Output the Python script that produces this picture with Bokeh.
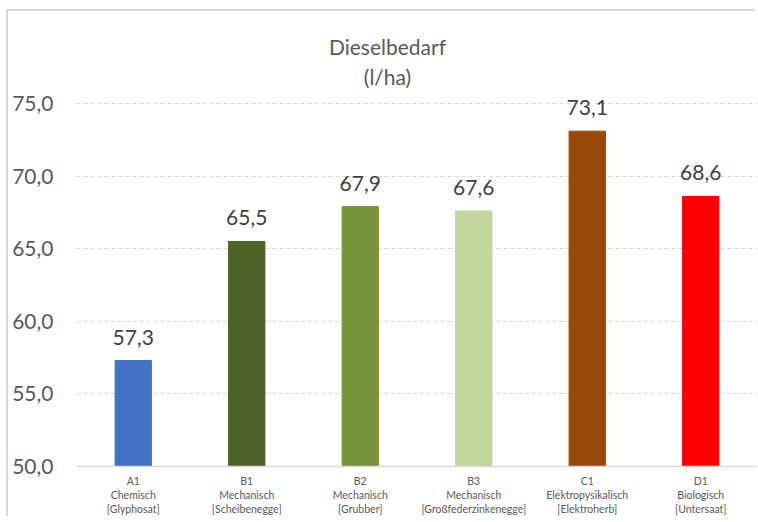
from bokeh.plotting import figure
from bokeh.models import ColumnDataSource, FactorRange, Range1d, FixedTicker, CustomJSTickFormatter, Label
from bokeh.core.properties import value
from bokeh.embed import file_html
from bokeh.resources import INLINE

codes = ["A1", "B1", "B2", "B3", "C1", "D1"]
methods = ["Chemisch", "Mechanisch", "Mechanisch", "Mechanisch", "Elektropysikalisch", "Biologisch"]
details = ["[Glyphosat]", "[Scheibenegge]", "[Grubber]", "[Großfederzinkenegge]", "[Elektroherb]", "[Untersaat]"]
values = [57.3, 65.5, 67.9, 67.6, 73.1, 68.6]
colors = ["#4472C4", "#4F6228", "#77933C", "#C3D69B", "#984807", "#FF0000"]
y_ticks = [50, 55, 60, 65, 70, 75]

cats = [f"{c}\n{m}\n{d}" for c, m, d in zip(codes, methods, details)]
labels = [f"{v:.1f}".replace(".", ",") for v in values]

src = ColumnDataSource(dict(x=cats, top=values, color=colors, label=labels))

FONT = "Lato"

p = figure(x_range=FactorRange(*cats, range_padding=0), y_range=Range1d(50, 81.34),
           frame_width=681, frame_height=455, output_backend="svg", toolbar_location=None,
           min_border_left=68, min_border_right=0, min_border_top=0, min_border_bottom=0,
           styles={"box-shadow": "-2px -2px 0 0 #D9D9D9",
                   "margin-left": "8px", "margin-top": "11px"})
p.outline_line_color = None
p.background_fill_color = "white"
p.border_fill_color = "white"

p.vbar(x="x", top="top", bottom=50, width=0.32, color="color", source=src)
p.text(x="x", y="top", text="label", source=src, text_align="center", text_baseline="bottom",
       y_offset=-16, text_font=value(FONT), text_font_size="21px", text_color="#404040")

p.xgrid.grid_line_color = None
p.ygrid.grid_line_color = "#D9D9D9"
p.ygrid.grid_line_dash = "4 3"
p.ygrid.grid_line_width = 1
p.yaxis.ticker = FixedTicker(ticks=y_ticks)
p.yaxis.formatter = CustomJSTickFormatter(code="return tick.toFixed(1).replace('.', ',');")
p.yaxis.axis_line_color = None
p.yaxis.major_tick_line_color = None
p.yaxis.minor_tick_line_color = None
p.yaxis.major_label_text_font = FONT
p.yaxis.major_label_text_font_size = "21px"
p.yaxis.major_label_text_color = "#595959"
p.yaxis.major_label_standoff = 17

p.xaxis.axis_line_color = "#D9D9D9"
p.xaxis.axis_line_width = 1.5
p.xaxis.major_tick_line_color = None
p.xaxis.minor_tick_line_color = None
p.xaxis.major_label_text_font = FONT
p.xaxis.major_label_text_font_size = "10.5px"
p.xaxis.major_label_text_color = "#595959"
p.xaxis.major_label_standoff = 2

p.add_layout(Label(x=311, y=420, x_units="screen", y_units="screen", text="Dieselbedarf",
                   text_align="center", text_baseline="middle", text_font=FONT,
                   text_font_size="21px", text_color="#595959"))
p.add_layout(Label(x=311, y=390, x_units="screen", y_units="screen", text="(l/ha)",
                   text_align="center", text_baseline="middle", text_font=FONT,
                   text_font_size="21px", text_color="#595959"))

open("out.html", "w").write(file_html(p, INLINE))
